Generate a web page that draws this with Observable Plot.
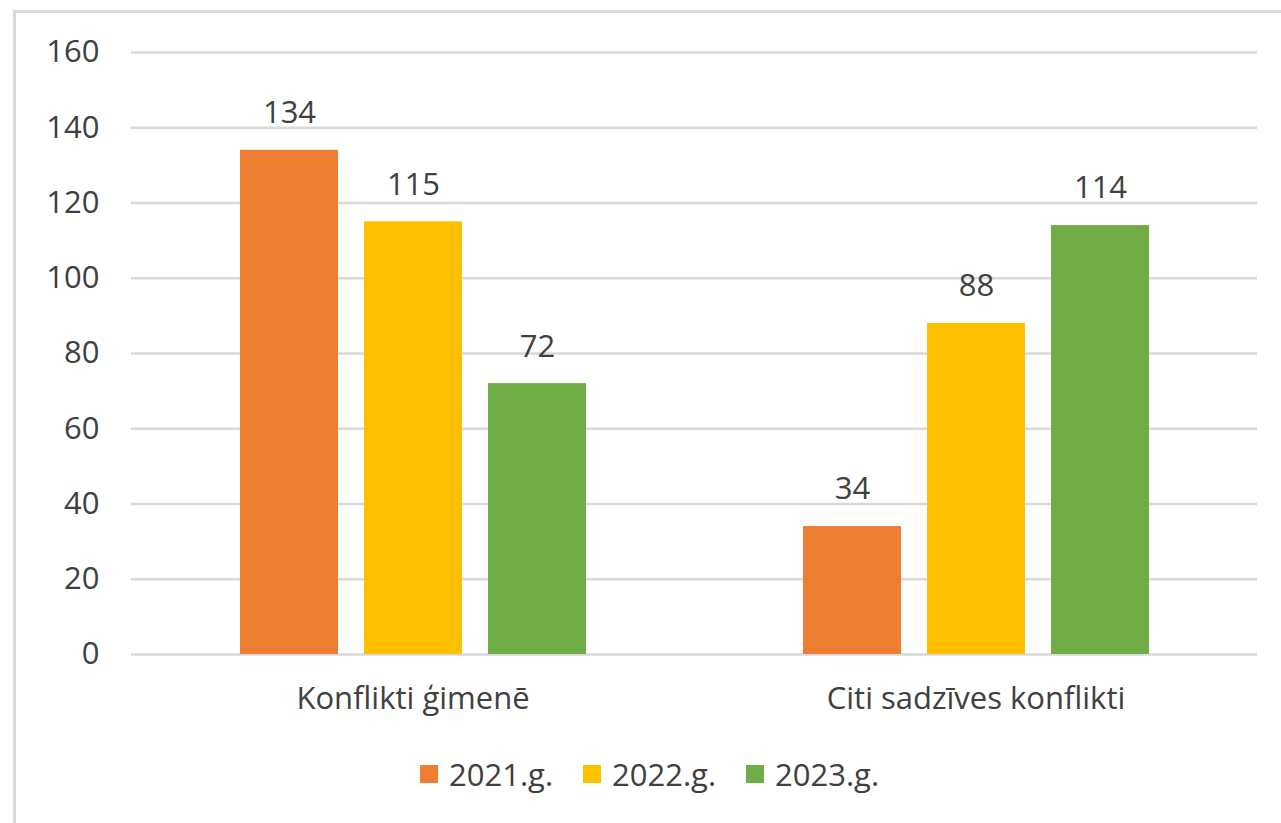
<!DOCTYPE html>
<html>
<head>
<meta charset="utf-8">
<script src="https://cdn.jsdelivr.net/npm/d3@7"></script>
<script src="https://cdn.jsdelivr.net/npm/@observablehq/plot@0.6"></script>
<style>
  html, body { margin: 0; padding: 0; background: #fff; overflow: hidden; width: 1281px; height: 823px; }
  #frame { position: absolute; left: 13px; top: 10px; width: 1400px; height: 900px; border: 3px solid #d9d9d9; box-sizing: border-box; }
  #chart { position: absolute; left: 0; top: 0; }
  #legend { position: absolute; left: 420px; top: 753px; display: flex; align-items: center; font-family: "Open Sans", sans-serif; font-size: 31px; color: #404040; }
  .item { display: flex; align-items: center; margin-right: 30px; }
  .sw { width: 18px; height: 18px; margin-right: 11px; }
</style>
</head>
<body>
<div id="frame"></div>
<div id="chart"></div>
<div id="legend"></div>
<script>
const categories = ["Konflikti ģimenē", "Citi sadzīves konflikti"];
const years = ["2021.g.", "2022.g.", "2023.g."];
const colors = ["#ED7D31", "#FFC000", "#70AD47"];
const values2021 = [134, 34];
const values2022 = [115, 88];
const values2023 = [72, 114];
const yTicks = [0, 20, 40, 60, 80, 100, 120, 140, 160];

const seriesValues = [values2021, values2022, values2023];
const data = [];
categories.forEach((c, ci) => {
  years.forEach((y, yi) => {
    data.push({category: c, year: y, value: seriesValues[yi][ci]});
  });
});

const FS = 31;
const plot = Plot.plot({
  width: 1281,
  height: 730,
  marginLeft: 131,
  marginRight: 24,
  marginTop: 52,
  marginBottom: 76,
  style: {fontFamily: "Open Sans, sans-serif", fontSize: FS + "px", color: "#404040", background: "transparent"},
  fx: {domain: categories, padding: 0, label: null},
  x: {domain: years, paddingInner: 0.21, paddingOuter: 0.875, axis: null},
  y: {domain: [0, 160], label: null},
  color: {domain: years, range: colors},
  marks: [
    Plot.ruleY(yTicks, {stroke: "#d9d9d9", strokeWidth: 2.5}),
    Plot.barY(data, {fx: "category", x: "year", y: "value", fill: "year"}),
    Plot.text(data, {fx: "category", x: "year", y: "value", text: d => String(d.value), dy: -37, fill: "#404040", fontSize: FS}),
    Plot.axisY({ticks: yTicks, tickSize: 0, tickPadding: 32, fontSize: FS, label: null}),
    Plot.axisFx({anchor: "bottom", tickSize: 0, tickPadding: 32, fontSize: FS, label: null})
  ]
});
document.getElementById("chart").appendChild(plot);

const legend = document.getElementById("legend");
years.forEach((y, i) => {
  const item = document.createElement("div");
  item.className = "item";
  const sw = document.createElement("div");
  sw.className = "sw";
  sw.style.background = colors[i];
  const lab = document.createElement("span");
  lab.textContent = y;
  item.appendChild(sw);
  item.appendChild(lab);
  legend.appendChild(item);
});
</script>
</body>
</html>
